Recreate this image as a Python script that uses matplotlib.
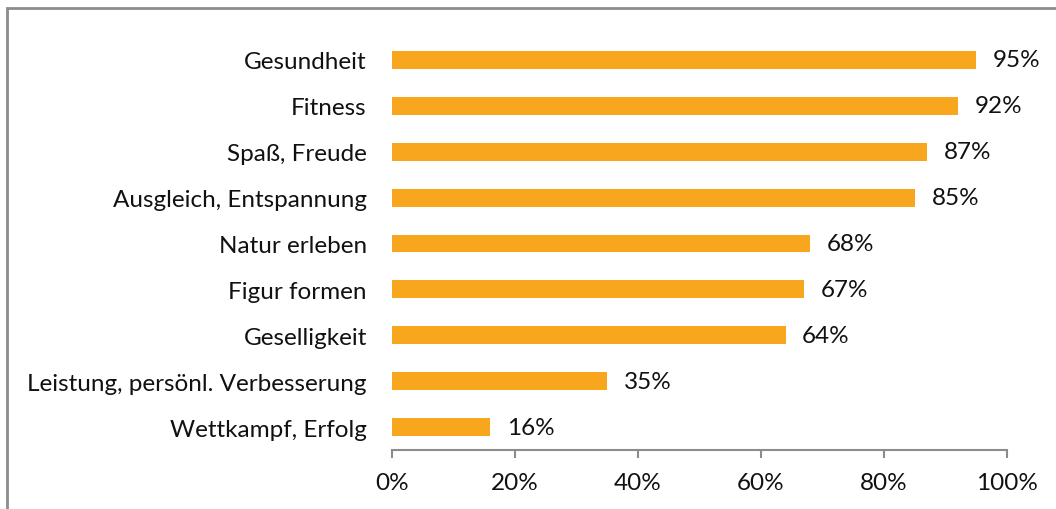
import matplotlib
matplotlib.use("Agg")
import matplotlib.pyplot as plt
from matplotlib.patches import Rectangle

plt.rcParams["font.family"] = ["Lato", "DejaVu Sans"]

categories = [
    "Gesundheit",
    "Fitness",
    "Spaß, Freude",
    "Ausgleich, Entspannung",
    "Natur erleben",
    "Figur formen",
    "Geselligkeit",
    "Leistung, persönl. Verbesserung",
    "Wettkampf, Erfolg",
]
values = [95, 92, 87, 85, 68, 67, 64, 35, 16]
x_ticks = [0, 20, 40, 60, 80, 100]

bar_color = "#F9A61F"
axis_color = "#8C8C8C"
text_color = "#111111"
fs = 17.5

fig = plt.figure(figsize=(10.56, 5.10), dpi=100)
ax = fig.add_axes([0.371, 0.1157, 0.5826, 0.8098])

y = list(range(len(categories)))[::-1]
ax.barh(y, values, height=0.39, color=bar_color)

for yi, v in zip(y, values):
    ax.annotate(f"{v}%", (v, yi), xytext=(12, 0), textcoords="offset points",
                va="center", ha="left", fontsize=fs, color=text_color)

ax.set_xlim(0, 100)
ax.set_ylim(-0.5, len(categories) - 0.5)
ax.set_xticks(x_ticks)
ax.set_xticklabels([f"{t}%" for t in x_ticks], fontsize=fs, color=text_color)
ax.set_yticks(y)
ax.set_yticklabels(categories, fontsize=fs, color=text_color)

for side in ["left", "top", "right"]:
    ax.spines[side].set_visible(False)
ax.spines["bottom"].set_color(axis_color)
ax.spines["bottom"].set_linewidth(1.5)
ax.tick_params(axis="x", direction="out", length=6, width=1.5, color=axis_color, pad=10)
ax.tick_params(axis="y", length=0, pad=18)

# grey frame around the chart area
fig.patches.append(Rectangle((7 / 1056, -0.1), 1.2, (510 - 9) / 510 + 0.1,
                             transform=fig.transFigure, fill=False,
                             edgecolor=axis_color, linewidth=2))

fig.savefig("out.png", dpi=100)
